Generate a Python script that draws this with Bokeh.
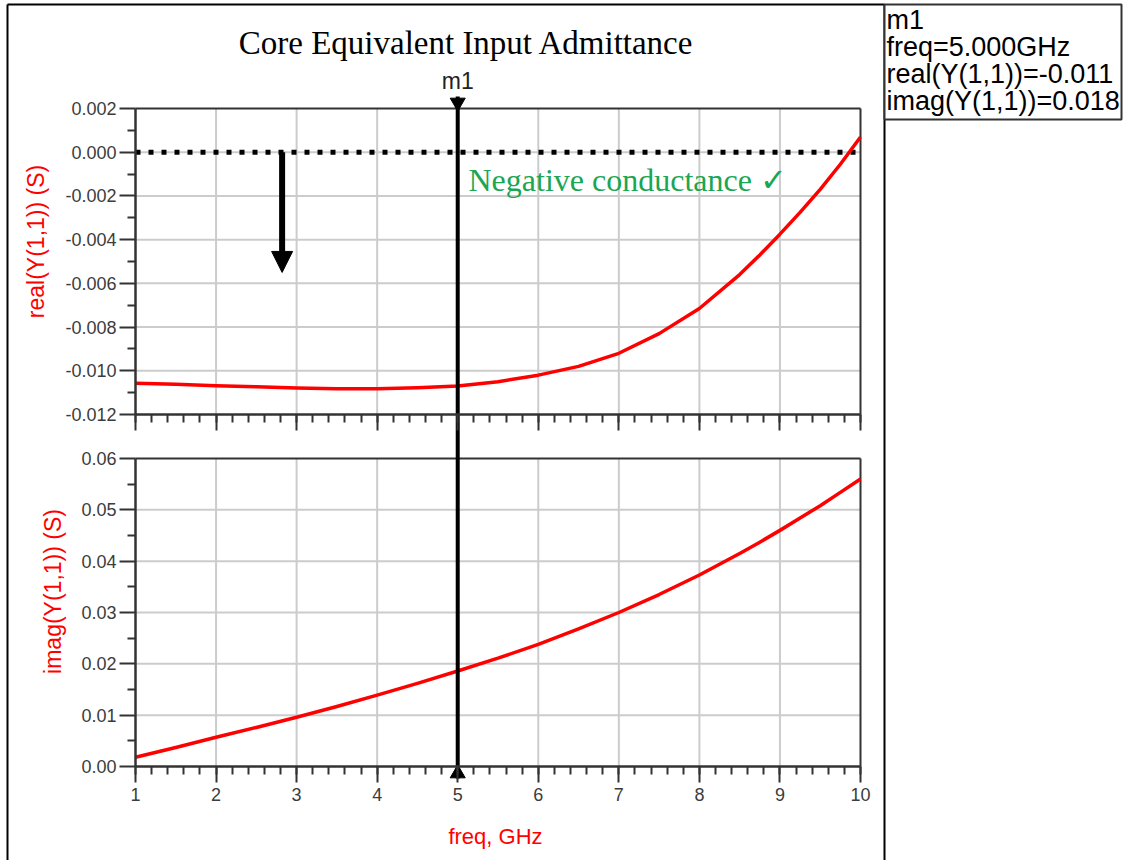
import math
from bokeh.plotting import figure
from bokeh.models import Range1d, LinearAxis, FixedTicker, PrintfTickFormatter, Arrow, NormalHead
from bokeh.core.properties import value
from bokeh.embed import file_html
from bokeh.resources import INLINE

# ---------------- data ----------------
FREQ = [1.0, 1.5, 2.0, 2.5, 3.0, 3.5, 4.0, 4.5, 5.0, 5.5, 6.0, 6.5, 7.0, 7.5, 8.0, 8.5, 8.75,
        9.0, 9.25, 9.5, 9.75, 10.0]
REAL_Y11 = [-0.01057, -0.01062, -0.01068, -0.01073, -0.01079, -0.01082, -0.01082, -0.01078, -0.01070,
            -0.01050, -0.01020, -0.00980, -0.00920, -0.00830, -0.00715, -0.00560, -0.00470,
            -0.00375, -0.00275, -0.00170, -0.00055, 0.00070]
IMAG_Y11 = [0.0018, 0.0037, 0.0057, 0.0076, 0.0096, 0.0117, 0.0139, 0.0162, 0.0186, 0.0211, 0.0238,
            0.0268, 0.0300, 0.0335, 0.0373, 0.0415, 0.0437, 0.0460, 0.0484, 0.0508, 0.0534, 0.0560]

FREQ_TICKS = [1, 2, 3, 4, 5, 6, 7, 8, 9, 10]
REAL_TICKS = [-0.012, -0.010, -0.008, -0.006, -0.004, -0.002, 0.000, 0.002]
IMAG_TICKS = [0.00, 0.01, 0.02, 0.03, 0.04, 0.05, 0.06]

TITLE = "Core Equivalent Input Admittance"
NOTE = "Negative conductance \u2713"
MARKER_FREQ = 5.0
MARKER_LINES = ["m1", "freq=5.000GHz", "real(Y(1,1))=-0.011", "imag(Y(1,1))=0.018"]
ARROW_FREQ = 2.82
ARROW_TO = -0.0055

# ---------------- layout (pixels) ----------------
W, H = 1130, 860
PX_L, PX_R = 135, 860
TOP_Y0, TOP_Y1 = 108, 414
BOT_Y0, BOT_Y1 = 458, 766

fx0, fx1 = FREQ_TICKS[0], FREQ_TICKS[-1]
sx = (PX_R - PX_L) / (fx1 - fx0)
f_range = Range1d(fx0 - PX_L / sx, fx1 + (W - PX_R) / sx)

r0, r1 = REAL_TICKS[0], REAL_TICKS[-1]
st = (TOP_Y1 - TOP_Y0) / (r1 - r0)
top_range = Range1d(r0 - (H - TOP_Y1) / st, r1 + TOP_Y0 / st)

i0, i1 = IMAG_TICKS[0], IMAG_TICKS[-1]
sb = (BOT_Y1 - BOT_Y0) / (i1 - i0)
bot_range = Range1d(i0 - (H - BOT_Y1) / sb, i1 + BOT_Y0 / sb)

p = figure(width=W, height=H, output_backend="svg", toolbar_location=None,
           x_range=Range1d(0, W), y_range=Range1d(H, 0),
           x_axis_location=None, y_axis_location=None,
           min_border=0, min_border_left=0, min_border_right=0, min_border_top=0, min_border_bottom=0)
p.outline_line_color = None
p.background_fill_color = "white"
p.border_fill_color = "white"
for g in p.grid:
    g.visible = False
p.extra_x_ranges = {"f": f_range}
p.extra_y_ranges = {"top": top_range, "bot": bot_range}

AX = "#333333"
GRID = "#cccccc"
SANS = "Liberation Sans"
SERIF = "Liberation Serif"

minor_f = [fx0 + k * 0.2 for k in range(int(round((fx1 - fx0) / 0.2)) + 1)]
minor_r = [round(r0 + 0.001 + k * 0.002, 4) for k in range(len(REAL_TICKS) - 1)]
minor_i = [round(i0 + 0.005 + k * 0.01, 4) for k in range(len(IMAG_TICKS) - 1)]

def style_axis(ax, label_size="18px"):
    ax.axis_line_color = AX
    ax.axis_line_width = 2.5
    ax.major_tick_line_color = AX
    ax.major_tick_line_width = 2
    ax.minor_tick_line_color = AX
    ax.minor_tick_line_width = 2
    ax.major_tick_out = 16
    ax.major_tick_in = 0
    ax.minor_tick_out = 8
    ax.minor_tick_in = 0
    ax.major_label_text_font = SANS
    ax.major_label_text_font_size = label_size
    ax.major_label_text_color = "#3c3c3c"

for yr, ticks, minors in (("top", REAL_TICKS, minor_r), ("bot", IMAG_TICKS, minor_i)):
    # grid lines
    inner_f = FREQ_TICKS[1:-1]
    p.segment(x0=inner_f, x1=inner_f,
              y0=[ticks[0]] * len(inner_f), y1=[ticks[-1]] * len(inner_f),
              x_range_name="f", y_range_name=yr, line_color=GRID, line_width=2)
    p.segment(x0=[fx0] * (len(ticks) - 2), x1=[fx1] * (len(ticks) - 2),
              y0=ticks[1:-1], y1=ticks[1:-1],
              x_range_name="f", y_range_name=yr, line_color=GRID, line_width=2)
    # top and right box edges
    p.segment(x0=[fx0, fx1], x1=[fx1, fx1], y0=[ticks[-1], ticks[0]], y1=[ticks[-1], ticks[-1]],
              x_range_name="f", y_range_name=yr, line_color=AX, line_width=2)

    xa = LinearAxis(x_range_name="f", y_range_name=yr, fixed_location=ticks[0], bounds=(fx0, fx1),
                    ticker=FixedTicker(ticks=FREQ_TICKS, minor_ticks=minor_f))
    style_axis(xa)
    xa.major_label_standoff = 5
    if yr == "top":
        xa.major_label_text_color = None
        xa.major_label_text_alpha = 0
    p.add_layout(xa, "below")

    ya = LinearAxis(x_range_name="f", y_range_name=yr, fixed_location=fx0, bounds=(ticks[0], ticks[-1]),
                    ticker=FixedTicker(ticks=ticks, minor_ticks=minors),
                    formatter=PrintfTickFormatter(format="%.3f" if yr == "top" else "%.2f"))
    style_axis(ya)
    ya.major_label_standoff = 3
    p.add_layout(ya, "left")

# zero-conductance dotted line
p.segment(x0=[fx0], x1=[fx1], y0=[0.0], y1=[0.0], x_range_name="f", y_range_name="top",
          line_color="black", line_width=5, line_dash="5 8")

# curves
p.line(FREQ, REAL_Y11, x_range_name="f", y_range_name="top", line_color="#ff0000", line_width=3.5,
       line_join="round")
p.line(FREQ, IMAG_Y11, x_range_name="f", y_range_name="bot", line_color="#ff0000", line_width=3.5,
       line_join="round")

# marker m1
p.segment(x0=[MARKER_FREQ], x1=[MARKER_FREQ], y0=[96], y1=[778], x_range_name="f",
          line_color="black", line_width=4)
p.scatter(x=[MARKER_FREQ], y=[102], marker="inverted_triangle", size=15, x_range_name="f",
          fill_color="black", line_color="black")
p.scatter(x=[MARKER_FREQ], y=[773], marker="triangle", size=15, x_range_name="f",
          fill_color="black", line_color="black")
p.text(x=[MARKER_FREQ], y=[80], text=["m1"], x_range_name="f", text_align="center",
       text_baseline="middle", text_font=value(SANS), text_font_size="23px", text_color="#222222")

# arrow
p.add_layout(Arrow(end=NormalHead(size=21, fill_color="black", line_color="black"),
                   x_start=ARROW_FREQ, y_start=0.0, x_end=ARROW_FREQ, y_end=ARROW_TO,
                   x_range_name="f", y_range_name="top", line_color="black", line_width=6))

# annotation texts
p.text(x=[466], y=[42], text=[TITLE], text_align="center", text_baseline="middle",
       text_font=value(SERIF), text_font_size="33px", text_color="black")
p.text(x=[468], y=[179], text=[NOTE], text_align="left", text_baseline="middle",
       text_font=value(SERIF), text_font_size="32px", text_color="#1aa653")

# axis titles
p.text(x=[35], y=[241], text=["real(Y(1,1)) (S)"], angle=math.pi / 2, text_align="center",
       text_baseline="middle", text_font=value(SANS), text_font_size="23px", text_color="#ff0000")
p.text(x=[52], y=[591], text=["imag(Y(1,1)) (S)"], angle=math.pi / 2, text_align="center",
       text_baseline="middle", text_font=value(SANS), text_font_size="23px", text_color="#ff0000")
p.text(x=[495], y=[836], text=["freq, GHz"], text_align="center", text_baseline="middle",
       text_font=value(SANS), text_font_size="22px", text_color="#ff0000")

# outer frame
p.segment(x0=[7, 7, 884], x1=[884, 7, 884], y0=[4, 4, 4], y1=[4, 860, 860],
          line_color="black", line_width=2)

# marker readout box
p.quad(left=[884], right=[1121], top=[4], bottom=[119], fill_color="white",
       line_color="#333333", line_width=2)
p.text(x=[886] * len(MARKER_LINES), y=[19, 46, 73, 100], text=MARKER_LINES, text_align="left",
       text_baseline="middle", text_font=value(SANS), text_font_size="27px", text_color="black")

open("out.html", "w").write(file_html(p, INLINE))
